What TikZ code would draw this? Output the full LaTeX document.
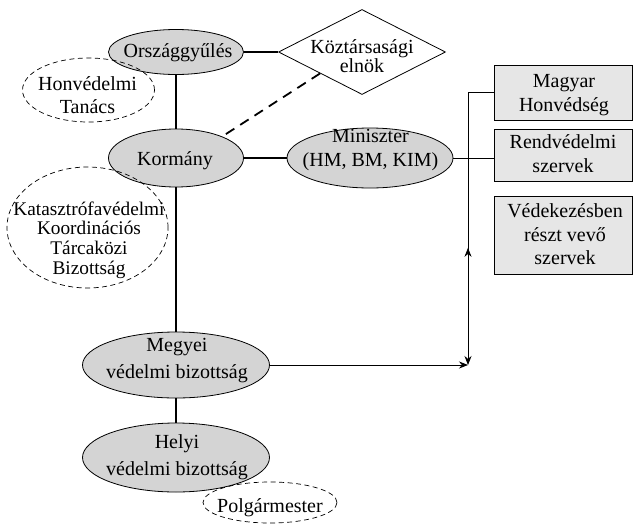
\documentclass[tikz,border=0pt]{standalone}
\usepackage{fontspec}
\setmainfont{Liberation Serif}
\usetikzlibrary{shapes.geometric,arrows.meta,decorations.markings,calc}

\definecolor{ovalfill}{RGB}{212,212,212}
\definecolor{boxfill}{RGB}{230,230,230}

\tikzset{
  body/.style={ellipse, draw, line width=0.8pt, fill=ovalfill, inner sep=0pt},
  aux/.style={ellipse, draw, dash pattern=on 5pt off 3.5pt, line width=0.7pt, inner sep=0pt},
  unit/.style={rectangle, draw, line width=0.8pt, fill=boxfill, inner sep=0pt},
  head/.style={diamond, draw, line width=0.8pt, fill=white, inner sep=0pt},
  txt/.style={inner sep=0pt, align=center, font=\fontsize{20}{#1}\selectfont},
  txt/.default=24,
  bond/.style={line width=1.8pt},
  link/.style={line width=0.8pt},
  tip/.style={-{Stealth[length=9pt,width=7pt]}},
}

\begin{document}
\begin{tikzpicture}[x=1pt,y=-1pt]
\useasboundingbox (0,0) rectangle (634,525);

% filled organs
\node[body, minimum width=135pt, minimum height=45pt] (ogy) at (176,52) {};
\node[head, minimum width=167pt, minimum height=85pt] (elnok) at (362,52) {};
\node[body, minimum width=135pt, minimum height=58pt] (korm) at (176,158) {};
\node[body, minimum width=166pt, minimum height=60pt] (min) at (370,158) {};
\node[body, minimum width=187pt, minimum height=66pt] (mvb) at (176,365) {};
\node[body, minimum width=187pt, minimum height=69pt] (hvb) at (176,457.5) {};

% executing bodies
\node[unit, minimum width=138pt, minimum height=55pt] (mh) at (563,92.5) {};
\node[unit, minimum width=138pt, minimum height=52pt] (rendv) at (563,155) {};
\node[unit, minimum width=138pt, minimum height=78pt] (ved) at (563,235) {};

% advisory bodies (dashed)
\node[aux, minimum width=132pt, minimum height=64pt] (hvt) at (88.5,90) {};
\node[aux, minimum width=161pt, minimum height=121pt] (kkt) at (87.5,227.5) {};
\node[aux, minimum width=134pt, minimum height=41pt] (pm) at (270,502.5) {};

% labels
\node[txt, anchor=base] (ogy-t) at (178,57) {Országgyűlés};
\node[txt=18] (elnok-t) at (362,56.2) {Köztársasági\\elnök};
\node[txt=23] (hvt-t) at (87.5,95.5) {Honvédelmi\\Tanács};
\node[txt, anchor=base] (korm-t) at (175,165) {Kormány};
\node[txt, font=\fontsize{19.3}{19.7}\selectfont] (kkt-t) at (89,240)
  {Katasztrófavédelmi\\Koordinációs\\Tárcaközi\\Bizottság};
\node[txt] (min-t) at (370.5,150.2) {Miniszter\\(HM, BM, KIM)};
\node[txt] (mh-t) at (564,95.5) {Magyar\\Honvédség};
\node[txt] (rendv-t) at (563,153.7) {Rendvédelmi\\szervek};
\node[txt=23.5] (ved-t) at (565,234.6) {Védekezésben\\részt vevő\\szervek};
\node[txt=27] (mvb-t) at (177,360.7) {Megyei\\védelmi bizottság};
\node[txt=27] (hvb-t) at (177,457.3) {Helyi\\védelmi bizottság};
\node[txt, anchor=base] (pm-t) at (270,512) {Polgármester};

% hierarchy
\draw[bond] (ogy.east) -- (elnok.west);
\draw[bond] (ogy.south) -- (korm.north);
\draw[bond, dash pattern=on 10pt off 7pt] ($(elnok.west)!0.5!(elnok.south)$) -- (korm.25);
\draw[bond] (korm.east) -- (min.west);
\draw[bond] (korm.south) -- (mvb.north);
\draw[bond] (mvb.south) -- (hvb.north);

% cooperation links
\draw[link] (min.east) -- (min.east -| rendv.west);
\coordinate (jn) at (468,365);
\coordinate (bend) at (mh.west -| jn);
\draw[link] (mh.west) -- (bend);
\draw[link, tip, postaction={decorate},
  decoration={markings, mark=at position 0.57 with {\arrowreversed{Stealth[length=9pt,width=7pt]}}}]
  (bend) -- (jn);
\draw[link, tip] (mvb.east) -- (mvb.east -| jn);
\end{tikzpicture}
\end{document}
